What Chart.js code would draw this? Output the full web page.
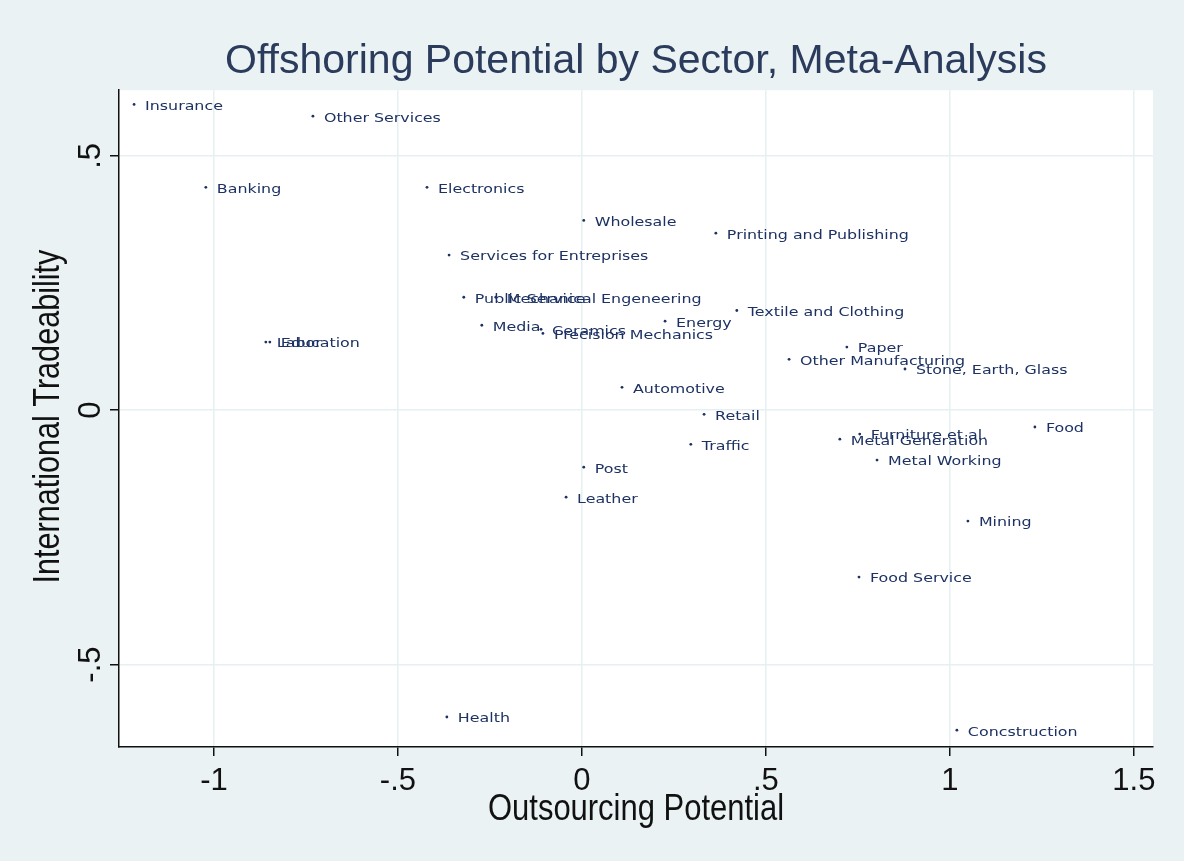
<!DOCTYPE html>
<html>
<head>
<meta charset="utf-8">
<script src="https://cdn.jsdelivr.net/npm/chart.js@4.4.1/dist/chart.umd.min.js"></script>
<style>
    html, body { margin: 0; padding: 0; background: #EAF2F3; }
    #wrap { width: 1184px; height: 861px; }
</style>
</head>
<body>
<div id="wrap"><canvas id="chartOffshoring"></canvas></div>
<script>
const sectors = ['Insurance', 'Other Services', 'Banking', 'Electronics', 'Wholesale', 'Printing and Publishing',
    'Services for Entreprises', 'Public Service', 'Mechanical Engeneering', 'Media', 'Ceramics', 'Precision Mechanics',
    'Energy', 'Textile and Clothing', 'Labor', 'Education', 'Paper', 'Other Manufacturing', 'Stone, Earth, Glass',
    'Automotive', 'Retail', 'Traffic', 'Post', 'Leather', 'Food', 'Furniture et al.', 'Metal Generation',
    'Metal Working', 'Mining', 'Food Service', 'Health', 'Concstruction'];
const outsourcing = [-1.217, -0.731, -1.022, -0.421, 0.005, 0.364,
    -0.361, -0.321, -0.234, -0.272, -0.111, -0.106,
    0.226, 0.421, -0.859, -0.848, 0.720, 0.563, 0.878,
    0.109, 0.332, 0.296, 0.005, -0.043, 1.231, 0.755, 0.701,
    0.802, 1.049, 0.753, -0.367, 1.019];
const tradeability = [0.601, 0.578, 0.438, 0.438, 0.373, 0.348,
    0.305, 0.222, 0.222, 0.167, 0.159, 0.151,
    0.175, 0.196, 0.134, 0.134, 0.124, 0.100, 0.081,
    0.045, -0.008, -0.067, -0.112, -0.171, -0.033, -0.047, -0.057,
    -0.098, -0.218, -0.328, -0.603, -0.629];
const xTicks = [-1, -0.5, 0, 0.5, 1, 1.5];
const xTickLabels = ['-1', '-.5', '0', '.5', '1', '1.5'];
const yTicks = [-0.5, 0, 0.5];
const yTickLabels = ['-.5', '0', '.5'];
const xTitle = 'Outsourcing Potential';
const yTitle = 'International Tradeability';

const sansFont = "'Liberation Sans', Arial, sans-serif";

const stataBackground = {
    id: 'stataBackground',
    beforeDraw(chart) {
        const { ctx, chartArea } = chart;
        ctx.save();
        ctx.fillStyle = '#EAF2F3';
        ctx.fillRect(0, 0, chart.width, chart.height);
        ctx.fillStyle = '#FFFFFF';
        ctx.fillRect(chartArea.left, chartArea.top, chartArea.right - chartArea.left, chartArea.bottom - chartArea.top);
        ctx.restore();
    }
};

const pointLabels = {
    id: 'pointLabels',
    afterDatasetsDraw(chart) {
        const { ctx } = chart;
        const meta = chart.getDatasetMeta(0);
        ctx.save();
        ctx.font = "13px 'DejaVu Sans'";
        ctx.fillStyle = '#1d3263';
        ctx.textBaseline = 'middle';
        ctx.textAlign = 'left';
        meta.data.forEach((pt, i) => {
            ctx.save();
            ctx.translate(pt.x + 11, pt.y + 2);
            ctx.scale(1.22, 1);
            ctx.fillText(sectors[i], 0, 0);
            ctx.restore();
        });
        ctx.restore();
    }
};

// axis titles in a condensed look (no narrow font installed)
const axisTitles = {
    id: 'axisTitles',
    afterDraw(chart) {
        const { ctx, chartArea } = chart;
        const cx = (chartArea.left + chartArea.right) / 2;
        const cy = (chartArea.top + chartArea.bottom) / 2;
        ctx.save();
        ctx.font = '36px ' + sansFont;
        ctx.fillStyle = '#111';
        ctx.textAlign = 'center';
        ctx.textBaseline = 'middle';

        ctx.save();
        ctx.translate(cx, chartArea.bottom + 63);
        ctx.scale(0.86, 1);
        ctx.fillText(xTitle, 0, 0);
        ctx.restore();

        ctx.save();
        ctx.translate(chartArea.left - 70, cy - 2);
        ctx.rotate(-Math.PI / 2);
        ctx.scale(0.85, 1);
        ctx.fillText(yTitle, 0, 0);
        ctx.restore();

        ctx.restore();
    }
};

const canvas = document.getElementById('chartOffshoring');

new Chart(canvas, {
    type: 'scatter',
    data: {
        datasets: [{
            data: sectors.map((s, i) => ({ x: outsourcing[i], y: tradeability[i] })),
            pointRadius: 1.4,
            pointHoverRadius: 1.4,
            pointBorderWidth: 0,
            backgroundColor: '#1d3263',
            borderColor: '#1d3263'
        }]
    },
    options: {
        responsive: true,
        maintainAspectRatio: false,
        animation: false,
        devicePixelRatio: 1,
        layout: {
            padding: { left: 0, right: 31, top: 0, bottom: 0 }
        },
        plugins: {
            legend: { display: false },
            tooltip: { enabled: false },
            title: {
                display: true,
                text: 'Offshoring Potential by Sector, Meta-Analysis',
                fullSize: false,
                color: '#2a3b5c',
                font: { family: sansFont, size: 41, weight: 'normal', lineHeight: 1.2 },
                padding: { top: 37, bottom: 4 }
            }
        },
        scales: {
            x: {
                type: 'linear',
                min: -1.258,
                max: 1.552,
                afterBuildTicks: (scale) => { scale.ticks = xTicks.map(v => ({ value: v })); },
                afterFit: (scale) => { scale.height = 114; },
                grid: {
                    color: '#E6EFF1',
                    lineWidth: 1.5,
                    tickColor: '#111',
                    tickLength: 9,
                    tickWidth: 1.5
                },
                border: { display: true, color: '#111', width: 1.5 },
                ticks: {
                    color: '#111',
                    padding: 7,
                    maxRotation: 0,
                    font: { family: sansFont, size: 31 },
                    callback: (v, i) => xTickLabels[i]
                },
                title: { display: false }
            },
            y: {
                type: 'linear',
                min: -0.662,
                max: 0.629,
                afterBuildTicks: (scale) => { scale.ticks = yTicks.map(v => ({ value: v })); },
                afterFit: (scale) => { scale.width = 119; },
                grid: {
                    color: '#E6EFF1',
                    lineWidth: 1.5,
                    tickColor: '#111',
                    tickLength: 9,
                    tickWidth: 1.5
                },
                border: { display: true, color: '#111', width: 1.5 },
                ticks: {
                    color: '#111',
                    padding: 0,
                    minRotation: 90,
                    maxRotation: 90,
                    crossAlign: 'center',
                    font: { family: sansFont, size: 31 },
                    callback: (v, i) => yTickLabels[i]
                },
                title: { display: false }
            }
        }
    },
    plugins: [stataBackground, pointLabels, axisTitles]
});
</script>
</body>
</html>
